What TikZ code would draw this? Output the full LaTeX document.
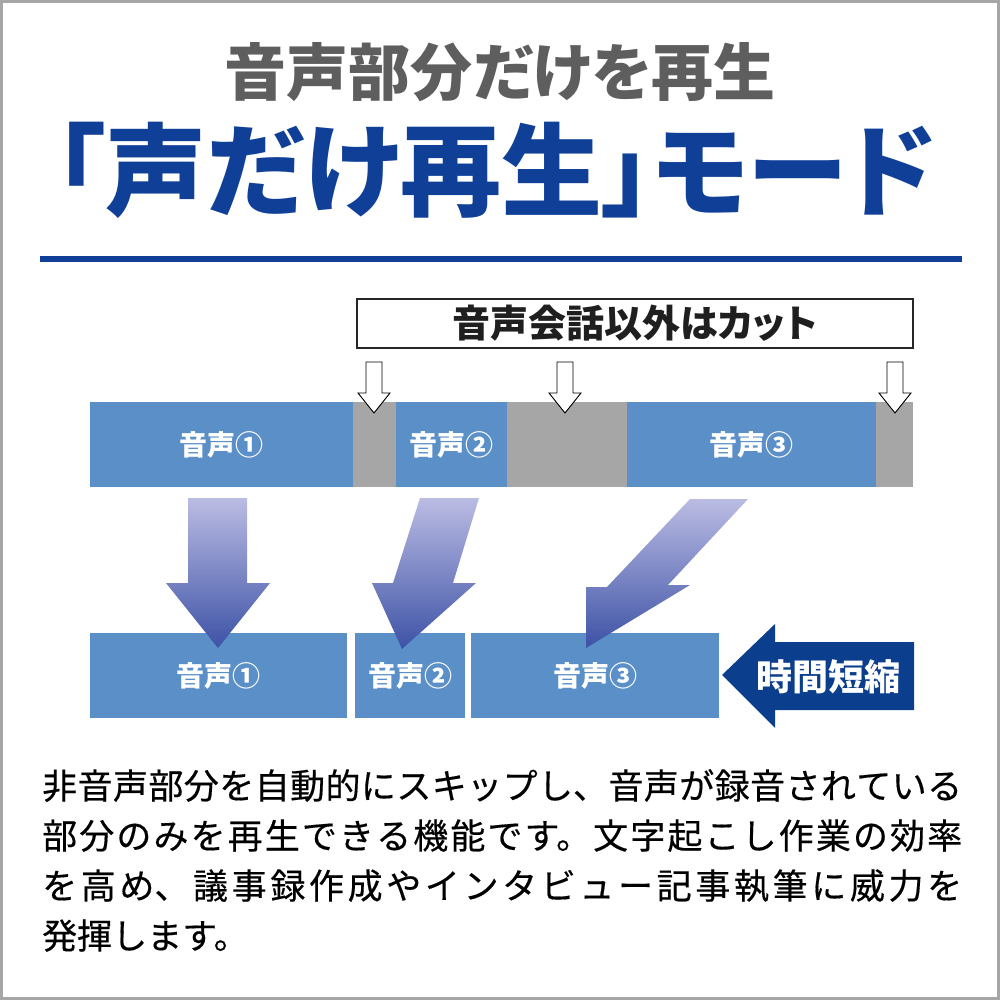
\documentclass[tikz,border=0pt]{standalone}
\usepackage{fontspec}
\newfontfamily\jp{Noto Sans CJK JP}
\newfontfamily\jpm[FakeBold=0.4]{Noto Sans CJK JP}
\newfontfamily\jpp[RawFeature=+palt]{Noto Sans CJK JP}
\definecolor{barblue}{HTML}{5B8FC8}
\definecolor{bargray}{HTML}{A6A6A6}
\definecolor{titleblue}{HTML}{0F3F97}
\definecolor{darkblue}{HTML}{0C3E8E}
\definecolor{titlegray}{HTML}{5E5E5E}
\definecolor{gradtop}{HTML}{BBBCE3}
\definecolor{gradbot}{HTML}{3D52A6}
\tikzset{
  seg/.style={inner sep=0pt, outer sep=0pt, minimum height=85pt, text=white,
    font=\jp\bfseries\fontsize{28}{30}\selectfont},
  bseg/.style={seg, fill=barblue},
  gseg/.style={seg, fill=bargray},
  cutarrow/.style={draw=black, fill=white, line width=0.9pt, line join=miter},
  bigarrow/.style={top color=gradtop, bottom color=gradbot, draw=none}
}
\begin{document}
\begin{tikzpicture}[x=1pt,y=-1pt]
\useasboundingbox (0,0) rectangle (1000,1000);
\draw[color=bargray, line width=3pt] (1.5,1.5) rectangle (998.5,998.5);

% titles
\node[text=titlegray, font=\jpp\bfseries\fontsize{62}{70}\selectfont] (t1) at (500,72) {音声部分だけを再生};
\node[text=titleblue, font=\jpp\bfseries\fontsize{101}{110}\selectfont] (t2) at (495,170) {「声だけ再生」モード};
\draw[titleblue, line width=6pt] (40,259) -- (962,259);

% cut box
\node[draw=black!85, line width=1.1pt, minimum width=556pt, minimum height=49pt, inner sep=0pt,
  font=\jpp\bfseries\fontsize{38}{40}\selectfont, text=black!88] (cut) at (635,323.5) {音声会話以外はカット};

% top bar
\node[bseg, minimum width=263pt] (a1) at (221.5,444.5) {音声①};
\node[gseg, minimum width=43pt] (g1) at (374.5,444.5) {};
\node[bseg, minimum width=111pt] (a2) at (451.5,444.5) {音声②};
\node[gseg, minimum width=120pt] (g2) at (567,444.5) {};
\node[bseg, minimum width=249pt] (a3) at (751.5,444.5) {音声③};
\node[gseg, minimum width=37pt] (g3) at (894.5,444.5) {};

% white cut arrows
\foreach \cx in {374,565,895}{
  \draw[cutarrow] (\cx-8,362) -- (\cx+8,362) -- (\cx+8,393) -- (\cx+16,393)
     -- (\cx,413) -- (\cx-16,393) -- (\cx-8,393) -- cycle;
}

% bottom bar
\node[bseg, minimum width=257pt] (b1) at (218.5,675.5) {音声①};
\node[bseg, minimum width=110pt] (b2) at (410,675.5) {音声②};
\node[bseg, minimum width=248pt] (b3) at (595,675.5) {音声③};

% gradient arrows
\shade[bigarrow] (188,498) -- (247,498) -- (247,583) -- (270,583) -- (218,648)
   -- (166,583) -- (188,583) -- cycle;
\shade[bigarrow] (420,498) -- (479,498) -- (453,583) -- (476,583) -- (402,649)
   -- (372,583) -- (393,583) -- cycle;
\shade[bigarrow] (690,499) -- (748,499) -- (668,585) -- (690,585) -- (586,648)
   -- (586,587) -- (607,587) -- cycle;

% time reduction arrow
\fill[darkblue] (722,675) -- (775,624) -- (775,642) -- (914,642) -- (914,710)
   -- (775,710) -- (775,728) -- cycle;
\node[text=white, font=\jpp\bfseries\fontsize{36}{40}\selectfont, inner sep=0pt] (short) at (828,677) {時間短縮};

% body text
\node[anchor=north west, inner sep=0pt, text width=920pt, align=justify,
  font=\jpm\fontsize{35}{50}\selectfont, text=black] (body) at (42,769)
  {\XeTeXlinebreaklocale "ja"\XeTeXlinebreakskip=0pt plus 10pt\relax\noindent
   非音声部分を自動的にスキップし、音声が録音されている\linebreak
   部分のみを再生できる機能です。文字起こし作業の効率\linebreak
   を高め、議事録作成やインタビュー記事執筆に威力を\linebreak
   発揮します。};
\end{tikzpicture}
\end{document}
